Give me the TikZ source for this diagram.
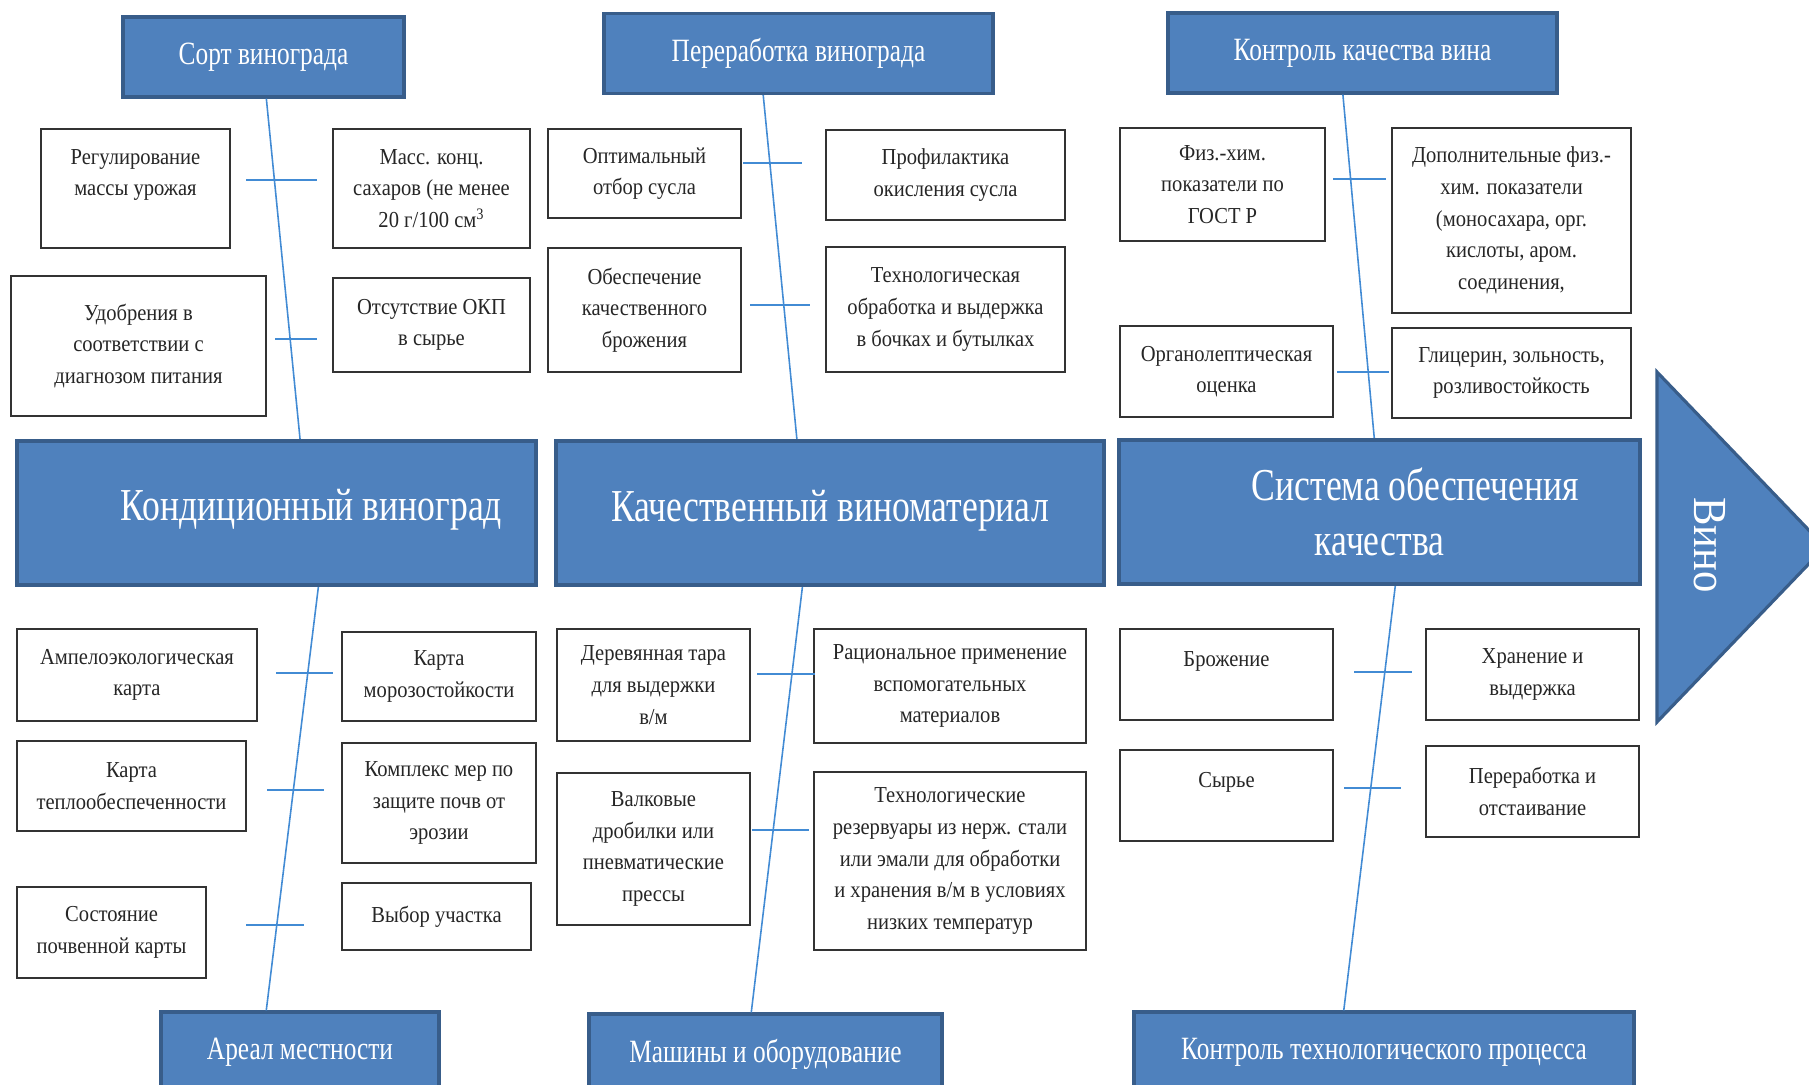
\documentclass[tikz,border=0pt]{standalone}
\usepackage{fontspec}
\setmainfont{Liberation Serif}[FakeStretch=0.9]
\newfontfamily\narrowserif{Liberation Serif}[FakeStretch=0.78]
\usetikzlibrary{calc}
\definecolor{boxblue}{RGB}{79,129,189}
\definecolor{boxedge}{RGB}{56,93,138}
\definecolor{bonecol}{RGB}{66,139,212}

\begin{document}
\begin{tikzpicture}[x=0.02cm, y=-0.02cm,
    cellbox/.style={draw=black!80, line width=0.8pt, fill=white, align=center, inner sep=2pt, text=black!85, font=\fontsize{13}{18}\selectfont},
    catbox/.style={draw=boxedge, line width=1.8pt, fill=boxblue, text=white, minimum height=1.6cm, font=\narrowserif\fontsize{18.5}{21}\selectfont},
    stagebox/.style={draw=boxedge, line width=2.4pt, fill=boxblue, text=white, align=center, minimum height=2.88cm, font=\narrowserif\fontsize{26}{31}\selectfont},
    spine/.style={draw=bonecol, line width=0.9pt},
    rib/.style={draw=bonecol, line width=1.3pt}]

    \useasboundingbox (0,0) rectangle (1809,1085);
    \clip (0,0) rectangle (1809,1085);

    %Categories (top and bottom)
    \node (sort) at (263.5,57) [catbox, minimum width=5.62cm] {Сорт винограда};
    \node (pererab) at (798.5,53.5) [catbox, minimum width=7.78cm] {Переработка винограда};
    \node (kontrol) at (1362.5,53) [catbox, minimum width=7.78cm] {Контроль качества вина};
    \node (areal) at (300,1052) [catbox, minimum width=5.56cm] {Ареал местности};
    \node (mashiny) at (765.5,1054) [catbox, minimum width=7.06cm] {Машины и оборудование};
    \node (tehproc) at (1384,1052) [catbox, minimum width=10cm] {Контроль технологического процесса};

    %Stages
    \node (kond) at (276.5,513) [stagebox, minimum width=10.38cm] {\raisebox{0.34cm}{\hspace*{1.4cm}Кондиционный виноград}};
    \node (kach) at (830,513) [stagebox, minimum width=10.96cm] {\raisebox{0.3cm}{Качественный виноматериал}};
    \node (sist) at (1379.5,512) [stagebox, minimum width=10.42cm] {\hspace*{1.44cm}Система обеспечения\\качества};

    %Result
    \draw[fill=boxblue, draw=boxedge, line width=1.8pt] (1657,372) -- (1825,547) -- (1657,722) -- cycle;
    \node (vino) at (1710,545) [rotate=-90, text=white, font=\fontsize{27}{29}\selectfont] {Вино};

    %Causes, top row
    \node (reg) at (135.5,188.5) [cellbox, minimum width=3.78cm, minimum height=2.38cm] {Регулирование\\массы урожая\\~};
    \node (mass) at (431.5,188.5) [cellbox, minimum width=3.94cm, minimum height=2.38cm] {Масс. конц.\\сахаров (не менее\\20 г/100 см\textsuperscript{3}};
    \node (udobr) at (138.5,346) [cellbox, minimum width=5.1cm, minimum height=2.8cm] {Удобрения в\\соответствии с\\диагнозом питания};
    \node (okp) at (431.5,325) [cellbox, minimum width=3.94cm, minimum height=1.88cm] {Отсутствие ОКП\\в сырье};
    \node (optim) at (644.5,173.5) [cellbox, minimum width=3.86cm, minimum height=1.78cm] {Оптимальный\\отбор сусла};
    \node (profil) at (945.5,175) [cellbox, minimum width=4.78cm, minimum height=1.8cm] {Профилактика\\окисления сусла};
    \node (obesp) at (644.5,310) [cellbox, minimum width=3.86cm, minimum height=2.48cm] {Обеспечение\\качественного\\брожения};
    \node (tehobr) at (945.5,309.5) [cellbox, minimum width=4.78cm, minimum height=2.5cm] {Технологическая\\обработка и выдержка\\в бочках и бутылках};
    \node (fizhim) at (1222.5,184.5) [cellbox, minimum width=4.1cm, minimum height=2.26cm] {Физ.-хим.\\показатели по\\ГОСТ Р};
    \node (dopfiz) at (1511.5,220.5) [cellbox, minimum width=4.78cm, minimum height=3.7cm] {Дополнительные физ.-\\хим. показатели\\(моносахара, орг.\\кислоты, аром.\\соединения,};
    \node (organ) at (1226.5,371.5) [cellbox, minimum width=4.26cm, minimum height=1.82cm] {Органолептическая\\оценка};
    \node (glic) at (1511.5,373) [cellbox, minimum width=4.78cm, minimum height=1.8cm] {Глицерин, зольность,\\розливостойкость};

    %Causes, bottom row
    \node (ampelo) at (137,675) [cellbox, minimum width=4.8cm, minimum height=1.84cm] {Ампелоэкологическая\\карта};
    \node (moroz) at (439,676.5) [cellbox, minimum width=3.88cm, minimum height=1.78cm] {Карта\\морозостойкости};
    \node (teplo) at (131.5,786) [cellbox, minimum width=4.58cm, minimum height=1.8cm] {Карта\\теплообеспеченности};
    \node (kompl) at (439,803) [cellbox, minimum width=3.88cm, minimum height=2.4cm] {Комплекс мер по\\защите почв от\\эрозии};
    \node (sost) at (111.5,932.5) [cellbox, minimum width=3.78cm, minimum height=1.82cm] {Состояние\\почвенной карты};
    \node (vybor) at (436.5,916.5) [cellbox, minimum width=3.78cm, minimum height=1.34cm] {Выбор участка};
    \node (tara) at (653.5,685) [cellbox, minimum width=3.86cm, minimum height=2.24cm] {Деревянная тара\\для выдержки\\в/м};
    \node (racio) at (950,686) [cellbox, minimum width=5.44cm, minimum height=2.28cm] {Рациональное применение\\вспомогательных\\материалов};
    \node (valk) at (653.5,849) [cellbox, minimum width=3.86cm, minimum height=3.04cm] {Валковые\\дробилки или\\пневматические\\прессы};
    \node (rezerv) at (950,861) [cellbox, minimum width=5.44cm, minimum height=3.56cm] {Технологические\\резервуары из нерж. стали\\или эмали для обработки\\и хранения в/м в условиях\\низких температур};
    \node (brozh) at (1226.5,674.5) [cellbox, minimum width=4.26cm, minimum height=1.82cm] {Брожение\\~};
    \node (hran) at (1532.5,674.5) [cellbox, minimum width=4.26cm, minimum height=1.82cm] {Хранение и\\выдержка};
    \node (syrye) at (1226.5,795.5) [cellbox, minimum width=4.26cm, minimum height=1.82cm] {Сырье\\~};
    \node (otst) at (1532.5,791.5) [cellbox, minimum width=4.26cm, minimum height=1.82cm] {Переработка и\\отстаивание};

    %Bones
    \draw[spine] ($(sort.south west)!0.51!(sort.south east)$) -- ($(kond.north west)!0.545!(kond.north east)$);
    \draw[spine] ($(pererab.south west)!0.41!(pererab.south east)$) -- ($(kach.north west)!0.44!(kach.north east)$);
    \draw[spine] ($(kontrol.south west)!0.45!(kontrol.south east)$) -- ($(sist.north west)!0.49!(sist.north east)$);
    \draw[spine] ($(kond.south west)!0.58!(kond.south east)$) -- ($(areal.north west)!0.38!(areal.north east)$);
    \draw[spine] ($(kach.south west)!0.45!(kach.south east)$) -- ($(mashiny.north west)!0.46!(mashiny.north east)$);
    \draw[spine] ($(sist.south west)!0.53!(sist.south east)$) -- ($(tehproc.north west)!0.42!(tehproc.north east)$);

    %Ribs across the bones
    \foreach \xa/\xb/\y in {246/317/180, 275/317/339, 743/802/163, 750/810/305,
        1333/1386/179, 1337/1389/372, 276/333/673, 267/324/790, 246/304/925,
        757/815/674, 752/809/830, 1354/1412/672, 1344/1401/788} {
        \draw[rib] (\xa,\y) -- (\xb,\y);
    }

\end{tikzpicture}
\end{document}
